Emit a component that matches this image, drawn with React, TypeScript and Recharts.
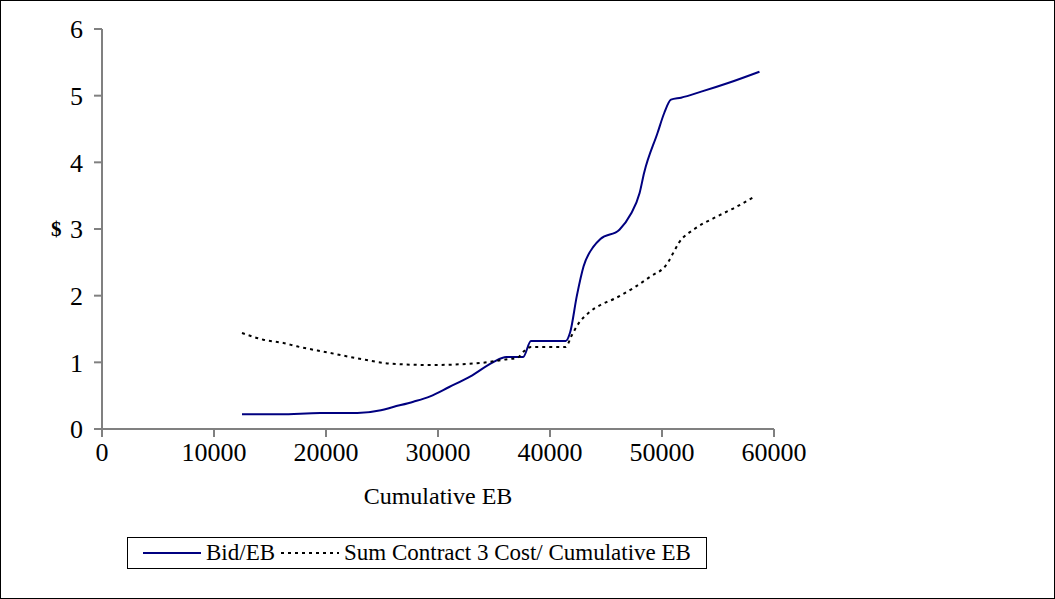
import { Line, LineChart, XAxis, YAxis } from "recharts";

// Cumulative EB values (x) and dollar values (y)
const bidX = [12500, 15900, 19500, 22800, 24900, 26000, 27800, 29300, 31000, 32900, 34900, 36100, 37600, 38300, 41400, 41800, 42400, 43000, 43900, 44500, 46200, 47200, 48000, 48400, 49600, 50200, 50800, 51700, 53500, 55900, 58700];
const bidY = [0.22, 0.22, 0.24, 0.24, 0.28, 0.33, 0.41, 0.49, 0.63, 0.79, 1.0, 1.08, 1.08, 1.32, 1.32, 1.45, 2.0, 2.44, 2.74, 2.85, 2.99, 3.22, 3.54, 3.84, 4.44, 4.74, 4.94, 4.97, 5.06, 5.19, 5.36];

const sumX = [12500, 14400, 16200, 17400, 20100, 22800, 25800, 29300, 33800, 35900, 37100, 37700, 38300, 41400, 41900, 42500, 43500, 44500, 45700, 47500, 48900, 50500, 51000, 51500, 52900, 54700, 56500, 58300];
const sumY = [1.44, 1.34, 1.29, 1.24, 1.15, 1.06, 0.98, 0.96, 0.99, 1.04, 1.07, 1.17, 1.23, 1.23, 1.39, 1.57, 1.75, 1.86, 1.95, 2.12, 2.28, 2.49, 2.64, 2.79, 3.0, 3.17, 3.32, 3.49];

const xTicks = [0, 10000, 20000, 30000, 40000, 50000, 60000];
const yTicks = [0, 1, 2, 3, 4, 5, 6];

const bidData = bidX.map((eb, i) => ({ eb, value: bidY[i] }));
const sumData = sumX.map((eb, i) => ({ eb, value: sumY[i] }));

const series = [
  { key: "bid", name: "Bid/EB", data: bidData, color: "#000080", dash: undefined as string | undefined },
  { key: "sum", name: "Sum Contract 3 Cost/ Cumulative EB", data: sumData, color: "#000000", dash: "3 4" },
];

const font = "'Liberation Serif', 'Times New Roman', serif";
const axisGray = "#808080";

export default function App() {
  return (
    <div
      style={{
        position: "absolute",
        left: 0,
        top: 0,
        width: 1055,
        height: 599,
        border: "1px solid #000",
        boxSizing: "border-box",
        background: "#fff",
        fontFamily: font,
      }}
    >
      <div style={{ position: "absolute", left: -1, top: -1 }}>
        <LineChart width={1055} height={599} margin={{ top: 29, right: 281, bottom: 0, left: 42 }}>
          <XAxis
            dataKey="eb"
            type="number"
            domain={[0, 60000]}
            ticks={xTicks}
            allowDuplicatedCategory={false}
            height={170}
            stroke={axisGray}
            strokeWidth={2}
            tickSize={8}
            tickMargin={6}
            tick={{ fill: "#000", fontSize: 26, fontFamily: font }}
            label={{ value: "Cumulative EB", position: "insideTop", offset: 58, fill: "#000", fontSize: 24, fontFamily: font }}
          />
          <YAxis
            type="number"
            domain={[0, 6]}
            ticks={yTicks}
            width={60}
            stroke={axisGray}
            strokeWidth={2}
            tickSize={8}
            tickMargin={11}
            tick={{ fill: "#000", fontSize: 26, fontFamily: font }}
            label={{ value: "$", position: "insideLeft", offset: 9, fill: "#000", fontSize: 21, fontWeight: "bold", fontFamily: font }}
          />
          {series.map((s) => (
            <Line
              key={s.key}
              data={s.data}
              dataKey="value"
              name={s.name}
              type="monotone"
              stroke={s.color}
              strokeWidth={2}
              strokeDasharray={s.dash}
              dot={false}
              activeDot={false}
              isAnimationActive={false}
            />
          ))}
        </LineChart>
      </div>
      <div
        style={{
          position: "absolute",
          left: 126,
          top: 536,
          width: 580,
          height: 32,
          border: "1px solid #000",
          boxSizing: "border-box",
          display: "flex",
          alignItems: "center",
          justifyContent: "center",
          gap: 6,
          fontSize: 23,
          color: "#000",
        }}
      >
        {series.map((s) => (
          <span key={s.key} style={{ display: "flex", alignItems: "center", gap: 5 }}>
            <svg width={58} height={4}>
              <line x1={0} y1={2} x2={58} y2={2} stroke={s.color} strokeWidth={2} strokeDasharray={s.dash} />
            </svg>
            <span>{s.name}</span>
          </span>
        ))}
      </div>
    </div>
  );
}
